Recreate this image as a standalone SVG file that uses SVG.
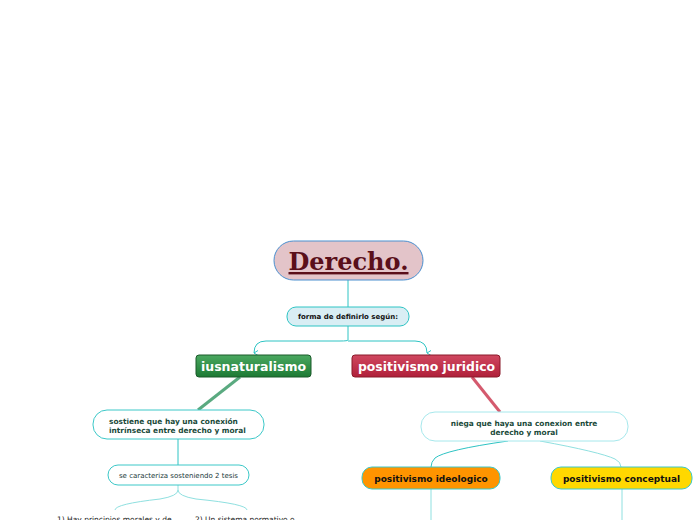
<svg xmlns="http://www.w3.org/2000/svg" width="696" height="520" viewBox="0 0 696 520">
<defs>
<linearGradient id="gGreen" x1="0" y1="0" x2="0" y2="1"><stop offset="0" stop-color="#4aa860"/><stop offset="1" stop-color="#1d7a34"/></linearGradient>
<linearGradient id="gRed" x1="0" y1="0" x2="0" y2="1"><stop offset="0" stop-color="#d04860"/><stop offset="1" stop-color="#b0203a"/></linearGradient>
<marker id="arr" markerWidth="6" markerHeight="6" refX="3" refY="5" orient="auto" markerUnits="userSpaceOnUse" viewBox="0 0 6 6"><path d="M0.5,1 L3,5 L5.5,1" fill="none" stroke="#2ec4c4" stroke-width="1"/></marker>
</defs>
<style>
.t{font-family:"DejaVu Sans",Verdana,sans-serif}
.b{font-weight:bold}
.c{fill:none;stroke:#2ec4c4;stroke-width:1}
.cl{fill:none;stroke:#8fe0e0;stroke-width:1}
.box{fill:#fff;stroke:#3cc8c8;stroke-width:1}
</style>
<rect width="696" height="520" fill="#fff"/>
<g id="connectors">
<path class="c" d="M348,280 V307"/>
<path class="c" d="M348,326 V340 Q348,341 340,341 H266 Q254,341 254,353" marker-end="url(#arr)"/>
<path class="c" d="M348,341 H415 Q427,341 427,353" marker-end="url(#arr)"/>
<path d="M240,377 L198,410" stroke="#5aaa80" stroke-width="3" fill="none"/>
<path d="M472,377 L500,412" stroke="#d45a6e" stroke-width="3" fill="none"/>
<path class="c" d="M178,439 V465"/>
<path class="cl" d="M178,485 V490 Q178,496 160,499 Q115,504 115,510"/>
<path class="cl" d="M178,490 Q178,496 196,499 Q247,504 247,510"/>
<path class="c" d="M508,441 Q445,450 435,458 Q431,462 431,467"/>
<path class="cl" d="M540,441 Q600,452 615,459 Q621,462 621,467"/>
<path class="cl" d="M431,489 V520"/>
<path class="cl" d="M622,489 V520"/>
</g>
<g id="derecho">
<rect x="274" y="241" width="149" height="39" rx="19.5" fill="#e3c4c9" stroke="#4a90d0" stroke-width="1"/>
<text x="348.5" y="270" text-anchor="middle" font-family="DejaVu Serif,serif" font-weight="bold" font-size="24" fill="#5a0f1a" text-decoration="underline">Derecho.</text>
</g>
<g id="forma">
<rect x="287" y="307" width="122" height="19" rx="9" fill="#d9eef4" stroke="#2ec4c4"/>
<text class="t b" x="348" y="319" text-anchor="middle" font-size="7" fill="#111">forma de definirlo según:</text>
</g>
<g id="iusnaturalismo">
<rect x="196" y="355" width="115" height="22" rx="3" fill="url(#gGreen)" stroke="#1a5a2a"/>
<text class="t b" x="253.5" y="371" text-anchor="middle" font-size="12.5" fill="#fff">iusnaturalismo</text>
</g>
<g id="positivismo-juridico">
<rect x="352" y="355" width="148" height="22" rx="3" fill="url(#gRed)" stroke="#8a1a2a"/>
<text class="t b" x="426.5" y="371" text-anchor="middle" font-size="12.4" fill="#fff">positivismo juridico</text>
</g>
<g id="sostiene">
<rect class="box" x="93" y="410" width="171" height="29" rx="14"/>
<text class="t b" x="109" y="424" font-size="7.4" fill="#1a4a3a">sostiene que hay una conexión</text>
<text class="t b" x="109" y="433" font-size="7.4" fill="#1a4a3a">intrínseca entre derecho y moral</text>
</g>
<g id="caracteriza">
<rect class="box" x="108" y="465" width="141" height="20" rx="10"/>
<text class="t" x="178.5" y="478" text-anchor="middle" font-size="7" fill="#1a3a3a">se caracteriza sosteniendo 2 tesis</text>
</g>
<g id="tesis1">
<text class="t" x="57" y="522" font-size="7.5" fill="#222">1) Hay principios morales y de</text>
</g>
<g id="tesis2">
<text class="t" x="195" y="522" font-size="7.5" fill="#222">2) Un sistema normativo o</text>
</g>
<g id="niega">
<rect x="421" y="412" width="207" height="29" rx="14" fill="#fff" stroke="#a6e8ec"/>
<text class="t b" x="524" y="426" text-anchor="middle" font-size="7.4" fill="#1a4a3a">niega que haya una conexion entre</text>
<text class="t b" x="524" y="435" text-anchor="middle" font-size="7.4" fill="#1a4a3a">derecho y moral</text>
</g>
<g id="ideologico">
<rect x="362" y="467" width="138" height="22" rx="10" fill="#ff9400" stroke="#3cc8c8"/>
<text class="t b" x="431" y="482" text-anchor="middle" font-size="9" fill="#111">positivismo ideologico</text>
</g>
<g id="conceptual">
<rect x="551" y="467" width="141" height="22" rx="10" fill="#ffd800" stroke="#3cc8c8"/>
<text class="t b" x="621.5" y="482" text-anchor="middle" font-size="9" fill="#111">positivismo conceptual</text>
</g>
</svg>
